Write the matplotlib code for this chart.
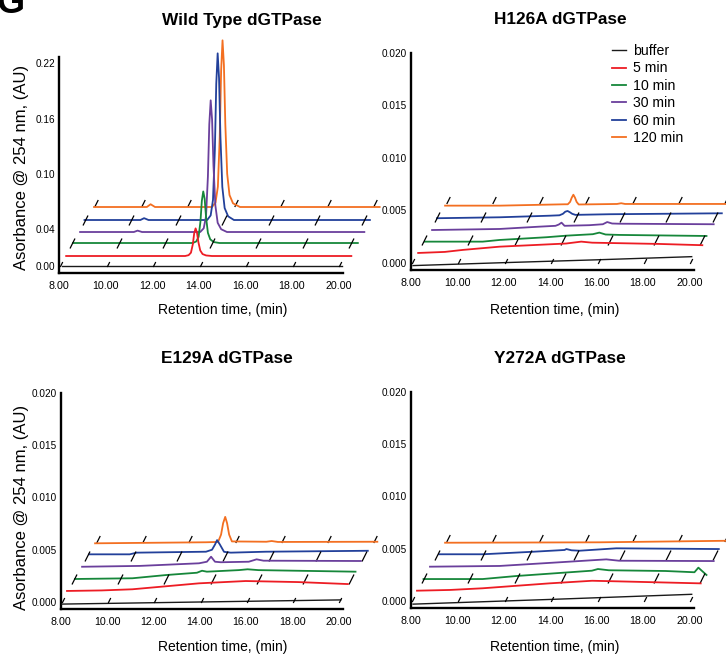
import numpy as np
import matplotlib
matplotlib.use("Agg")
import matplotlib.pyplot as plt
from matplotlib import font_manager
from matplotlib.transforms import ScaledTranslation

# ---------------------------------------------------------------
# data (time in min, absorbance in AU)
# series order: buffer, 5, 10, 30, 60, 120 min
# ---------------------------------------------------------------
SERIES = ["buffer", "5 min", "10 min", "30 min", "60 min", "120 min"]
TIME_TICKS = [8, 10, 12, 14, 16, 18, 20]

wt_t = [
    [8.13, 20.15],
    [8.05, 13.16, 13.31, 13.41, 13.49, 13.55, 13.61, 13.67, 13.73, 13.81, 13.91, 14.06, 14.31, 20.3],
    [8.06, 13.21, 13.36, 13.46, 13.54, 13.60, 13.66, 13.72, 13.78, 13.86, 13.96, 14.11, 14.36, 20.3],
    [8.09, 10.4, 10.56, 10.75, 13.25, 13.40, 13.50, 13.58, 13.64, 13.70, 13.76, 13.82, 13.90, 14.00, 14.15, 14.40, 20.3],
    [8.0, 10.4, 10.56, 10.75, 13.27, 13.42, 13.52, 13.60, 13.66, 13.72, 13.78, 13.84, 13.92, 14.02, 14.17, 14.42, 20.26],
    [8.13, 10.4, 10.56, 10.75, 13.20, 13.35, 13.45, 13.53, 13.59, 13.65, 13.71, 13.77, 13.85, 13.95, 14.10, 14.40, 20.4],
]
wt_y = [
    [0.0, 0.0],
    [0, 0, 0.0009, 0.0036, 0.0126, 0.0246, 0.030, 0.0255, 0.015, 0.006, 0.0021, 0.0006, 0, 0],
    [0, 0, 0.0017, 0.0067, 0.0235, 0.046, 0.056, 0.048, 0.028, 0.011, 0.004, 0.001, 0, 0],
    [0, 0, 0.0015, 0, 0, 0.004, 0.017, 0.060, 0.117, 0.143, 0.122, 0.072, 0.029, 0.010, 0.003, 0, 0],
    [0, 0, 0.002, 0, 0, 0.005, 0.022, 0.076, 0.148, 0.181, 0.154, 0.090, 0.036, 0.013, 0.004, 0, 0],
    [0, 0, 0.003, 0, 0, 0.005, 0.022, 0.076, 0.148, 0.181, 0.154, 0.090, 0.036, 0.013, 0.004, 0, 0],
]

h126_t = [
    [8.09, 12.0, 16.0, 20.1],
    [8.05, 9.2, 9.97, 11.56, 13.0, 14.43, 15.08, 15.55, 18.43, 20.3],
    [8.06, 10.55, 11.28, 13.3, 14.16, 15.3, 15.58, 15.85, 16.44, 20.2],
    [8.09, 11.0, 12.72, 13.41, 13.55, 13.67, 13.8, 14.87, 15.45, 15.64, 15.85, 16.15, 20.23],
    [8.02, 10.73, 12.87, 13.3, 13.45, 13.55, 13.65, 13.75, 13.85, 13.99, 15.45, 20.3],
    [8.09, 10.45, 13.24, 13.38, 13.48, 13.55, 13.62, 13.69, 13.76, 13.85, 15.5, 15.68, 15.85, 20.3],
]
h126_y = [
    [-0.00025, 0.00003, 0.0003, 0.0006],
    [0.0, 0.0001, 0.00029, 0.0006, 0.00075, 0.0009, 0.00108, 0.00098, 0.00086, 0.00074],
    [-0.00016, -0.00016, 0.0, 0.00026, 0.00041, 0.00055, 0.0007, 0.00052, 0.00048, 0.00038],
    [-0.0001, 0.0, 0.00022, 0.0003, 0.00042, 0.0006, 0.0003, 0.00036, 0.00045, 0.00066, 0.00052, 0.0005, 0.00045],
    [-0.00012, -0.00003, 0.00012, 0.00016, 0.0003, 0.0005, 0.00057, 0.00045, 0.0003, 0.0002, 0.00026, 0.00035],
    [-0.00016, -0.00016, -0.00003, -0.00003, 0.0002, 0.0006, 0.00088, 0.0006, 0.0002, -0.00005, 0.0, 0.00007, 0.0, 0.0],
]

e129_t = [
    [8.04, 14.0, 20.1],
    [8.0, 9.5, 10.83, 13.71, 15.73, 18.0, 20.15],
    [8.06, 10.55, 12.01, 13.34, 13.56, 13.77, 15.15, 15.53, 16.0, 20.2],
    [8.09, 10.58, 13.15, 13.49, 13.67, 13.84, 14.09, 15.3, 15.64, 15.94, 20.15],
    [8.11, 9.87, 10.17, 13.17, 13.43, 13.56, 13.65, 13.77, 13.95, 14.24, 15.75, 20.17],
    [8.09, 12.89, 13.41, 13.54, 13.63, 13.72, 13.80, 13.89, 14.01, 15.5, 15.73, 16.0, 20.3],
]
e129_y = [
    [-0.0002, 0.0, 0.0002],
    [0.0001, 0.00015, 0.00026, 0.00083, 0.00105, 0.00095, 0.00076],
    [0.0, 0.00007, 0.00038, 0.0006, 0.00079, 0.0007, 0.00085, 0.00093, 0.00085, 0.0007],
    [0.00012, 0.0002, 0.00045, 0.0006, 0.00108, 0.0006, 0.00055, 0.0006, 0.00083, 0.0007, 0.00067],
    [0.00016, 0.00016, 0.00032, 0.00041, 0.0006, 0.0011, 0.00152, 0.0011, 0.0004, 0.00032, 0.00041, 0.0005],
    [-0.00003, 0.00007, 0.0001, 0.0008, 0.0019, 0.0025, 0.0019, 0.0008, 0.00015, 0.00012, 0.00019, 0.0001, 0.00012],
]

y272_t = [
    [8.09, 14.0, 20.1],
    [8.0, 9.42, 10.83, 13.7, 15.55, 16.71, 20.23],
    [8.0, 10.55, 12.0, 15.26, 15.52, 15.99, 18.43, 19.68, 19.85, 20.2],
    [8.0, 11.0, 13.28, 15.6, 16.15, 20.23],
    [8.11, 10.0, 12.15, 13.52, 13.6, 13.82, 14.17, 15.75, 20.17],
    [8.09, 14.74, 20.3],
]
y272_y = [
    [-0.0003, 0.00015, 0.00064],
    [0.00003, 0.0001, 0.00026, 0.00073, 0.00098, 0.00092, 0.00073],
    [-0.0001, -0.0001, 0.00019, 0.0007, 0.00086, 0.00074, 0.00067, 0.00055, 0.00099, 0.00029],
    [0.00003, 0.0001, 0.00041, 0.00073, 0.0006, 0.00057],
    [0.00007, 0.00007, 0.00031, 0.00048, 0.00057, 0.00045, 0.00041, 0.00064, 0.00057],
    [-0.00007, -0.00003, 0.00012],
]

# ---------------------------------------------------------------
# style
# ---------------------------------------------------------------
COLORS = ["#1a1a1a", "#ed1c24", "#16873a", "#6a3f9c", "#22409a", "#f36f21"]
# pseudo-3D shift of each trace, in pixels (right, up)
DX = [0, 6, 12.5, 19, 25.5, 32]
DY = [0, 10, 23, 34, 46, 59]
# rows of slanted time ticks (right, up, height in px)
ROW_DX = [2, 13, 25.5, 37]
ROW_DY = [2, 23, 46, 63]
ROW_H = [5, 10, 10, 7]

names = {f.name for f in font_manager.fontManager.ttflist}
if "Liberation Sans Narrow" in names:
    NARROW, SQ = "Liberation Sans Narrow", 1.12
else:
    NARROW, SQ = "Liberation Sans", 1.0
plt.rcParams["font.family"] = ["Liberation Sans", "DejaVu Sans"]

W, H = 726, 662
fig = plt.figure(figsize=(W / 100, H / 100), dpi=100)


def px_rect(l, t, r, b):
    return [l / W, 1 - b / H, (r - l) / W, (b - t) / H]


def shifted(ax, dx, dy):
    return ax.transData + ScaledTranslation(dx / 100, dy / 100, fig.dpi_scale_trans)


tick_marker = [(-0.25, -0.5), (0.25, 0.5)]

panels = [
    ("Wild Type dGTPase", wt_t, wt_y, px_rect(59, 57, 343, 273), (-0.0076, 0.227),
     [0.0, 0.04, 0.10, 0.16, 0.22], "{:.2f}", (242, 20), (223, 310)),
    ("H126A dGTPase", h126_t, h126_y, px_rect(411, 53, 694, 270), (-0.00067, 0.020),
     [0.0, 0.005, 0.010, 0.015, 0.020], "{:.3f}", (560, 20), (555, 310)),
    ("E129A dGTPase", e129_t, e129_y, px_rect(61, 393, 343, 609), (-0.00067, 0.0199),
     [0.0, 0.005, 0.010, 0.015, 0.020], "{:.3f}", (227, 358), (223, 647)),
    ("Y272A dGTPase", y272_t, y272_y, px_rect(411, 392, 694, 608), (-0.00067, 0.0199),
     [0.0, 0.005, 0.010, 0.015, 0.020], "{:.3f}", (560, 358), (555, 647)),
]

axes = []
for title, tt, yy, rect, ylim, yt, fmt, tpos, xlpos in panels:
    ax = fig.add_axes(rect)
    ax.patch.set_visible(False)
    ax.set_xlim(8.0, 20.2)
    ax.set_ylim(*ylim)
    for s in ["top", "right"]:
        ax.spines[s].set_visible(False)
    for s in ["left", "bottom"]:
        ax.spines[s].set_linewidth(1.7)
    ax.set_xticks(TIME_TICKS)
    ax.set_xticklabels([f"{v:.2f}" for v in TIME_TICKS], family=[NARROW, "DejaVu Sans"],
                       fontsize=7.7 * SQ)
    ax.set_yticks(yt)
    ax.set_yticklabels([fmt.format(v) for v in yt], family=[NARROW, "DejaVu Sans"],
                       fontsize=7.2 * SQ)
    ax.tick_params(axis="both", length=0)
    ax.tick_params(axis="x", pad=6)
    ax.tick_params(axis="y", pad=3)

    lines = []
    for i in range(len(SERIES)):
        ln, = ax.plot(tt[i], yy[i], color=COLORS[i], lw=1.3 if i else 1.0,
                      transform=shifted(ax, DX[i], DY[i]), clip_on=False,
                      zorder=10 - i, solid_joinstyle="round")
        lines.append(ln)
    for j in range(len(ROW_DX)):
        ax.plot(TIME_TICKS, np.zeros(len(TIME_TICKS)), ls="none", marker=tick_marker,
                ms=ROW_H[j] * 0.72, mec="black", mfc="none", mew=0.9,
                transform=shifted(ax, ROW_DX[j], ROW_DY[j]), clip_on=False,
                zorder=10 - 2 * j)

    fig.text(tpos[0] / W, 1 - tpos[1] / H, title, ha="center", va="center",
             fontsize=12.4, fontweight="bold")
    fig.text(xlpos[0] / W, 1 - xlpos[1] / H, "Retention time, (min)", ha="center",
             va="center", fontsize=10)
    axes.append((ax, lines))

for yc in (167, 507):
    fig.text(22 / W, 1 - yc / H, "Asorbance @ 254 nm, (AU)", rotation=90,
             ha="center", va="center", fontsize=12)

# panel letter, mostly cut off at the top edge
fig.text(-3 / W, 1 - 13 / H, "G", fontsize=26, fontweight="bold",
         ha="left", va="baseline")

ax2, lines2 = axes[1]
ax2.legend(lines2, SERIES, loc="upper left", bbox_to_anchor=(605 / W, 1 - 37 / H),
           bbox_transform=fig.transFigure, frameon=False, borderpad=0,
           handlelength=1.0, handletextpad=0.45, labelspacing=0.24,
           prop={"family": [NARROW, "DejaVu Sans"], "size": 10.2 * SQ})

fig.savefig("out.png", dpi=100)
